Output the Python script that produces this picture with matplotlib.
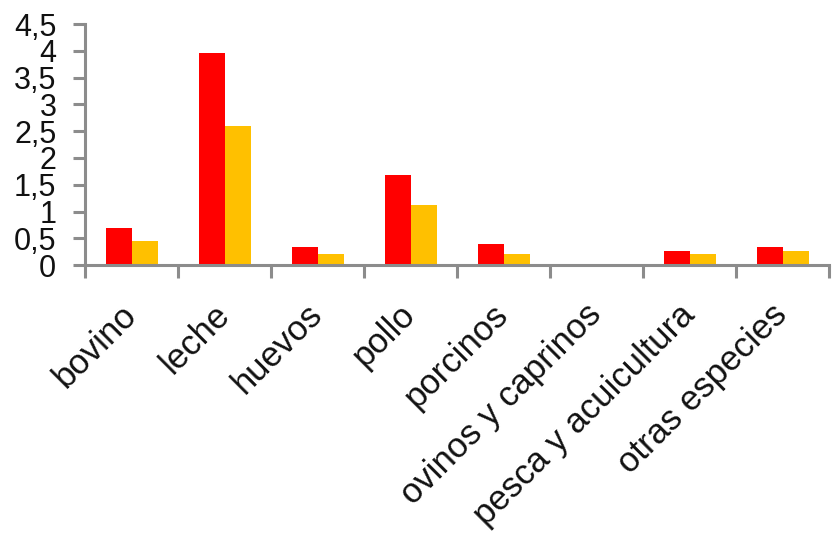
import matplotlib
matplotlib.use("Agg")
import matplotlib.pyplot as plt
import numpy as np

# categories and the two series
categorias = ["bovino", "leche", "huevos", "pollo", "porcinos",
              "ovinos y caprinos", "pesca y acuicultura", "otras especies"]
serie_roja = [0.69, 3.97, 0.34, 1.69, 0.39, 0.0, 0.26, 0.34]
serie_amarilla = [0.45, 2.6, 0.2, 1.13, 0.2, 0.0, 0.2, 0.26]
y_ticks = [0, 0.5, 1, 1.5, 2, 2.5, 3, 3.5, 4, 4.5]
y_labels = ["0", "0,5", "1", "1,5", "2", "2,5", "3", "3,5", "4", "4,5"]

gris = "#8c8c8c"
plt.rcParams["font.family"] = ["Liberation Sans", "DejaVu Sans"]

fig = plt.figure(figsize=(8.33, 5.34), dpi=100)
ax = fig.add_axes([0.102, 0.5037, 0.893, 0.451])

x = np.arange(len(categorias))
w = 0.28
ax.bar(x - 0.13, serie_roja, width=w, color="#ff0000")
ax.bar(x + 0.15, serie_amarilla, width=w, color="#ffc000")

ax.set_xlim(-0.5, len(categorias) - 0.5)
ax.set_ylim(0, 4.5)

for s in ["top", "right"]:
    ax.spines[s].set_visible(False)
for s in ["left", "bottom"]:
    ax.spines[s].set_color(gris)
    ax.spines[s].set_linewidth(2.2)

ax.set_yticks(y_ticks)
ax.set_yticklabels(y_labels)
ax.tick_params(axis="y", length=8.6, width=2.2, color=gris, pad=12,
               labelsize=22, labelcolor="#111111")

# labels at the centres, tick marks between the groups
ax.set_xticks(x)
ax.set_xticklabels(categorias, rotation=45, ha="right", va="center",
                   rotation_mode="anchor", fontsize=25, color="#111111")
ax.set_xticks(np.arange(len(categorias) + 1) - 0.5, minor=True)
ax.tick_params(axis="x", which="major", length=0, pad=32)
ax.tick_params(axis="x", which="minor", length=9, width=2.2, color=gris)

fig.savefig("out.png", dpi=100)
